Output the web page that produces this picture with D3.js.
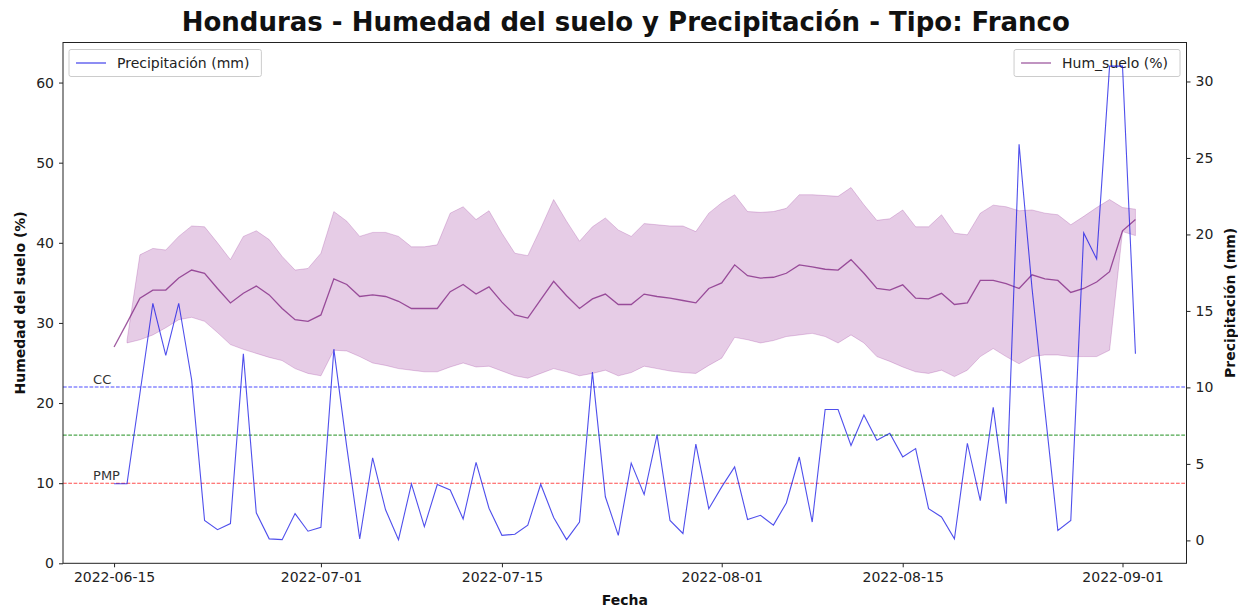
<!DOCTYPE html>
<html>
<head>
<meta charset="utf-8">
<script src="https://cdn.jsdelivr.net/npm/d3@7"></script>
<style>
  html, body { margin: 0; padding: 0; background: #fff; }
  svg text { font-family: "DejaVu Sans", sans-serif; }
</style>
</head>
<body>
<svg id="chart" width="1238" height="608"></svg>
<script>
// ---------------- DATA ----------------
const startDate = "2022-06-15";
const endDate = "2022-09-02";
const xTickLabels = ["2022-06-15", "2022-07-01", "2022-07-15", "2022-08-01", "2022-08-15", "2022-09-01"];
const leftTicks = [0, 10, 20, 30, 40, 50, 60];
const rightTicks = [0, 5, 10, 15, 20, 25, 30];

// Precipitación (mm), one value per day
const precipitacion = [
  3.7, 3.7, 9.6, 15.5, 12.1, 15.5, 10.5, 1.3, 0.7, 1.1,
  12.2, 1.8, 0.1, 0.05, 1.75, 0.6, 0.85, 12.5, 6.1, 0.1,
  5.4, 2.0, 0.05, 3.7, 0.9, 3.65, 3.3, 1.4, 5.1, 2.1,
  0.33, 0.4, 1.0, 3.67, 1.5, 0.05, 1.2, 11.0, 2.85, 0.33,
  5.05, 3.0, 6.9, 1.3, 0.45, 6.3, 2.07, 3.5, 4.8, 1.37,
  1.64, 1.0, 2.45, 5.45, 1.2, 8.56, 8.56, 6.2, 8.2, 6.55,
  7.0, 5.46, 6.0, 2.07, 1.53, 0.1, 6.35, 2.6, 8.7, 2.4,
  25.9, 16.5, 8.5, 0.65, 1.3, 20.1, 18.4, 31.0, 31.0, 12.2
];

// Humedad del suelo (%) - media
const humedad = [
  27.0, 30.0, 33.1, 34.1, 34.1, 35.6, 36.6, 36.2, 34.3, 32.5,
  33.7, 34.6, 33.5, 31.8, 30.4, 30.2, 31.0, 35.5, 34.8, 33.3,
  33.5, 33.3, 32.7, 31.8, 31.8, 31.8, 33.9, 34.8, 33.6, 34.5,
  32.6, 31.0, 30.6, 32.9, 35.2, 33.4, 31.8, 33.0, 33.6, 32.3,
  32.3, 33.6, 33.3, 33.1, 32.8, 32.5, 34.3, 35.0, 37.25, 35.9,
  35.6, 35.7, 36.2, 37.25, 37.0, 36.7, 36.6, 37.9, 36.2, 34.3,
  34.1, 34.75, 33.1, 33.0, 33.7, 32.3, 32.5, 35.3, 35.3, 34.9,
  34.3, 36.0, 35.5, 35.3, 33.8, 34.3, 35.1, 36.4, 41.5, 42.9
];

// Banda superior (%)
const humedadSup = [
  null, 27.8, 38.5, 39.3, 39.1, 40.8, 42.1, 42.0, 40.0, 37.9,
  40.8, 41.5, 40.4, 38.3, 36.6, 36.8, 38.7, 43.9, 42.7, 40.8,
  41.3, 41.3, 40.8, 39.5, 39.5, 39.75, 43.7, 44.5, 42.9, 44.0,
  41.2, 38.7, 38.4, 41.8, 45.4, 42.7, 40.2, 42.0, 43.1, 41.6,
  40.8, 42.4, 42.25, 42.1, 42.1, 41.4, 43.7, 45.0, 46.0, 43.9,
  43.8, 43.9, 44.3, 46.0, 46.0, 45.9, 45.8, 46.9, 44.75, 42.8,
  43.0, 44.1, 42.0, 42.0, 43.5, 41.2, 41.0, 43.7, 44.7, 44.5,
  44.0, 44.1, 43.7, 43.5, 42.25, 43.3, 44.4, 45.4, 44.4, 44.2
];

// Banda inferior (%)
const humedadInf = [
  null, 27.5, 27.9, 28.5, 29.4, 30.4, 30.7, 30.2, 28.8, 27.3,
  26.7, 26.2, 25.7, 25.3, 24.3, 23.7, 23.4, 26.6, 26.5, 25.8,
  25.0, 24.7, 24.3, 24.1, 23.9, 23.9, 24.5, 25.0, 24.5, 24.6,
  24.0, 23.4, 23.1, 23.7, 24.3, 23.9, 23.4, 23.7, 24.1, 23.4,
  23.8, 24.6, 24.3, 24.0, 23.8, 23.7, 24.7, 25.6, 28.2, 27.9,
  27.5, 27.8, 28.3, 28.5, 28.7, 28.3, 27.5, 28.5, 27.5, 25.8,
  25.2, 24.5, 23.9, 23.7, 24.1, 23.3, 24.1, 25.8, 26.8, 25.8,
  24.9, 25.8, 26.0, 26.0, 25.8, 25.8, 25.8, 26.6, 41.4, 40.9
];

// Umbrales (%)
const umbralNombres = ["CC", "", "PMP"];
const umbralValores = [22, 16, 10];
const umbralColores = ["blue", "green", "red"];

// ---------------- LAYOUT ----------------
const svg = d3.select("#chart");
const m = { left: 63, right: 1186.5, top: 42.5, bottom: 563.3 };

const parse = d3.timeParse("%Y-%m-%d");
const d0 = parse(startDate), d1 = parse(endDate);
const dates = d3.timeDay.range(d0, d3.timeDay.offset(d1, 1));

const span = d1 - d0;
const x = d3.scaleTime()
  .domain([new Date(+d0 - 0.05 * span), new Date(+d1 + 0.05 * span)])
  .range([m.left, m.right]);

const yL = d3.scaleLinear().domain([0, 65]).range([m.bottom, m.top]);
const pExt = d3.extent(precipitacion);
const pPad = 0.05 * (pExt[1] - pExt[0]);
const yR = d3.scaleLinear().domain([pExt[0] - pPad, pExt[1] + pPad]).range([m.bottom, m.top]);

const defs = svg.append("defs");
defs.append("clipPath").attr("id", "clip").append("rect")
  .attr("x", m.left).attr("y", m.top).attr("width", m.right - m.left).attr("height", m.bottom - m.top);

const plot = svg.append("g").attr("clip-path", "url(#clip)");

// band
const bandData = dates.map((d, i) => ({ d, lo: humedadInf[i], hi: humedadSup[i] }));
const area = d3.area()
  .defined(p => p.lo != null && p.hi != null)
  .x(p => x(p.d)).y0(p => yL(p.lo)).y1(p => yL(p.hi));
plot.append("path").datum(bandData)
  .attr("d", area)
  .attr("fill", "rgb(128,0,128)").attr("fill-opacity", 0.2)
  .attr("stroke", "rgb(128,0,128)").attr("stroke-opacity", 0.2).attr("stroke-width", 1);

// humidity line
const humLine = d3.line().x((v, i) => x(dates[i])).y(v => yL(v));
plot.append("path").datum(humedad)
  .attr("d", humLine)
  .attr("fill", "none").attr("stroke", "rgb(118,20,120)").attr("stroke-opacity", 0.7)
  .attr("stroke-width", 1.3);

// thresholds
umbralValores.forEach((v, i) => {
  plot.append("line")
    .attr("x1", m.left).attr("x2", m.right)
    .attr("y1", yL(v)).attr("y2", yL(v))
    .attr("stroke", umbralColores[i]).attr("stroke-opacity", 0.7)
    .attr("stroke-width", 1.1).attr("stroke-dasharray", "3.7,1.6");
  if (umbralNombres[i]) {
    svg.append("text")
      .attr("x", x(d0) - 21).attr("y", yL(v) - 3)
      .attr("font-size", 13).attr("fill", "#333")
      .text(umbralNombres[i]);
  }
});

// spines
svg.append("rect")
  .attr("x", m.left).attr("y", m.top).attr("width", m.right - m.left).attr("height", m.bottom - m.top)
  .attr("fill", "none").attr("stroke", "#222").attr("stroke-width", 1);

// axes
const tickFont = 14;
const xAxis = d3.axisBottom(x)
  .tickValues(xTickLabels.map(parse))
  .tickFormat(d3.timeFormat("%Y-%m-%d"))
  .tickSizeOuter(0).tickSize(4).tickPadding(5);
const gx = svg.append("g").attr("transform", `translate(0,${m.bottom})`).call(xAxis);
const gyL = svg.append("g").attr("transform", `translate(${m.left},0)`)
  .call(d3.axisLeft(yL).tickValues(leftTicks).tickSizeOuter(0).tickSize(4).tickPadding(5));
const gyR = svg.append("g").attr("transform", `translate(${m.right},0)`)
  .call(d3.axisRight(yR).tickValues(rightTicks).tickSizeOuter(0).tickSize(4).tickPadding(5));
[gx, gyL, gyR].forEach(g => {
  g.select(".domain").remove();
  g.selectAll("line").attr("stroke", "#222");
  g.selectAll("text").attr("font-size", tickFont).attr("fill", "#222")
    .attr("font-family", "DejaVu Sans, sans-serif");
});

// legend helper
function legend(xLeft, anchorRight, label, color, opacity) {
  const g = svg.append("g");
  const rect = g.append("rect");
  const t = g.append("text").attr("font-size", 14).attr("fill", "#222").text(label);
  const tw = t.node().getComputedTextLength();
  const boxW = 10 + 30 + 12 + tw + 8;
  const bx = anchorRight ? xLeft - boxW : xLeft;
  const by = 49.5, bh = 27;
  rect.attr("x", bx).attr("y", by).attr("width", boxW).attr("height", bh)
    .attr("rx", 2).attr("fill", "white").attr("fill-opacity", 0.8)
    .attr("stroke", "#ccc").attr("stroke-width", 1);
  g.append("line").attr("x1", bx + 7).attr("x2", bx + 37)
    .attr("y1", by + bh / 2).attr("y2", by + bh / 2)
    .attr("stroke", color).attr("stroke-opacity", opacity).attr("stroke-width", 1.3);
  t.attr("x", bx + 48).attr("y", by + bh / 2 + 5);
  return g;
}

// hum legend (first axis)
legend(1180, true, "Hum_suelo (%)", "rgb(118,20,120)", 0.7);

// precipitation line (twin axis, drawn on top)
const pLine = d3.line().x((v, i) => x(dates[i])).y(v => yR(v));
svg.append("g").attr("clip-path", "url(#clip)")
  .append("path").datum(precipitacion)
  .attr("d", pLine)
  .attr("fill", "none").attr("stroke", "rgb(20,20,230)").attr("stroke-opacity", 0.75)
  .attr("stroke-width", 1.1);

legend(69, false, "Precipitación (mm)", "rgb(20,20,230)", 0.75);

// labels
svg.append("text").attr("x", (m.left + m.right) / 2 + 1).attr("y", 31)
  .attr("text-anchor", "middle").attr("font-size", 26).attr("font-weight", "bold")
  .attr("fill", "#111")
  .text("Honduras - Humedad del suelo y Precipitación - Tipo: Franco");
svg.append("text").attr("x", (m.left + m.right) / 2).attr("y", 605)
  .attr("text-anchor", "middle").attr("font-size", 14).attr("font-weight", "bold").attr("fill", "#111")
  .text("Fecha");
svg.append("text")
  .attr("transform", `translate(25,${(m.top + m.bottom) / 2}) rotate(-90)`)
  .attr("text-anchor", "middle").attr("font-size", 14).attr("font-weight", "bold").attr("fill", "#111")
  .text("Humedad del suelo (%)");
svg.append("text")
  .attr("transform", `translate(1235,${(m.top + m.bottom) / 2}) rotate(-90)`)
  .attr("text-anchor", "middle").attr("font-size", 14).attr("font-weight", "bold").attr("fill", "#111")
  .text("Precipitación (mm)");
</script>
</body>
</html>
